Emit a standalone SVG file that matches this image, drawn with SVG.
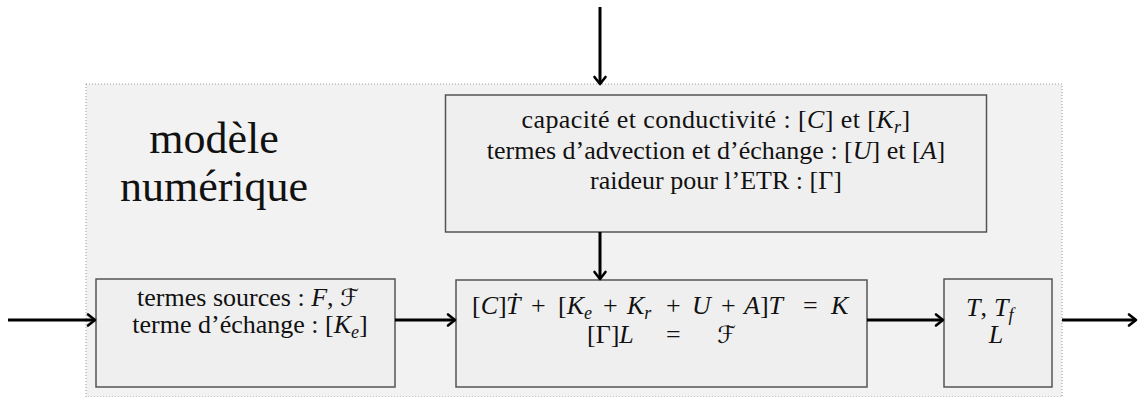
<svg xmlns="http://www.w3.org/2000/svg" width="1138" height="397" viewBox="0 0 1138 397">
<defs>
<style>
.t{font-family:"Liberation Serif","DejaVu Serif",serif;font-size:26px;fill:#111;}
.big{font-family:"Liberation Serif","DejaVu Serif",serif;font-size:44px;fill:#111;}
.i{font-style:italic;}
.s{font-size:18px;font-style:italic;}
.cal{font-family:"DejaVu Serif","DejaVu Sans",serif;font-style:italic;font-size:24px;}
.box{fill:#efefef;stroke:#555;stroke-width:1.5;}
.ar{stroke:#000;stroke-width:3;fill:none;}
</style>
<marker id="ah" markerUnits="userSpaceOnUse" markerWidth="14" markerHeight="16" refX="9" refY="8" orient="auto">
<path d="M2,2.5 L9,8 L2,13.5" fill="none" stroke="#000" stroke-width="2.6" stroke-linecap="round" stroke-linejoin="round"/>
</marker>
</defs>
<g id="cadre">
<rect x="86" y="84" width="976" height="313" fill="#f2f2f2" stroke="#999" stroke-width="1" stroke-dasharray="1,2"/>
<text class="big" x="214" y="153" text-anchor="middle">modèle</text>
<text class="big" x="214" y="201" text-anchor="middle">numérique</text>
</g>
<g id="proprietes">
<rect class="box" x="445.5" y="95" width="541" height="137"/>
<text class="t" x="716" y="128" text-anchor="middle" letter-spacing="0.4">capacité et conductivité : [<tspan class="i">C</tspan>] et [<tspan class="i">K</tspan><tspan class="s" dy="5">r</tspan><tspan dy="-5">]</tspan></text>
<text class="t" x="716" y="159" text-anchor="middle">termes d’advection et d’échange : [<tspan class="i">U</tspan>] et [<tspan class="i">A</tspan>]</text>
<text class="t" x="716" y="189" text-anchor="middle">raideur pour l’ETR : [Γ]</text>
</g>
<g id="sources">
<rect class="box" x="96" y="279" width="299" height="108"/>
<text class="t" x="248" y="306" text-anchor="middle">termes sources : <tspan class="i">F</tspan>, <tspan class="cal">ℱ</tspan></text>
<text class="t" x="250" y="333" text-anchor="middle">terme d’échange : [<tspan class="i">K</tspan><tspan class="s" dy="5">e</tspan><tspan dy="-5">]</tspan></text>
</g>
<g id="equations">
<rect class="box" x="456" y="280" width="411" height="107"/>
<text class="t" y="314"><tspan x="472">[</tspan><tspan class="i">C</tspan>]<tspan x="506" class="i">Ṫ</tspan><tspan x="531">+</tspan><tspan x="558">[</tspan><tspan class="i">K</tspan><tspan class="s" y="319">e</tspan><tspan x="603" y="314">+</tspan><tspan x="627" class="i">K</tspan><tspan class="s" y="319">r</tspan><tspan x="666" y="314">+</tspan><tspan x="692" class="i">U</tspan><tspan x="721">+</tspan><tspan x="744" class="i">A</tspan>]<tspan class="i">T</tspan><tspan x="803">=</tspan><tspan x="831" class="i">K</tspan></text>
<text class="t" y="343"><tspan x="587">[Γ]</tspan><tspan class="i">L</tspan><tspan x="666">=</tspan><tspan x="717" class="cal">ℱ</tspan></text>
</g>
<g id="resultats">
<rect class="box" x="944" y="279" width="108" height="108"/>
<text class="t" y="316"><tspan x="966" class="i">T</tspan>,<tspan x="994" class="i">T</tspan><tspan class="s" y="321">f</tspan></text>
<text class="t i" x="996" y="343" text-anchor="middle">L</text>
</g>
<g id="connecteurs">
<line class="ar" x1="600" y1="7" x2="600" y2="84" marker-end="url(#ah)"/>
<line class="ar" x1="600" y1="232" x2="600" y2="279" marker-end="url(#ah)"/>
<line class="ar" x1="8" y1="320" x2="95" y2="320" marker-end="url(#ah)"/>
<line class="ar" x1="395" y1="320" x2="455" y2="320" marker-end="url(#ah)"/>
<line class="ar" x1="867" y1="320" x2="943" y2="320" marker-end="url(#ah)"/>
<line class="ar" x1="1062" y1="320" x2="1136" y2="320" marker-end="url(#ah)"/>
</g>
</svg>
